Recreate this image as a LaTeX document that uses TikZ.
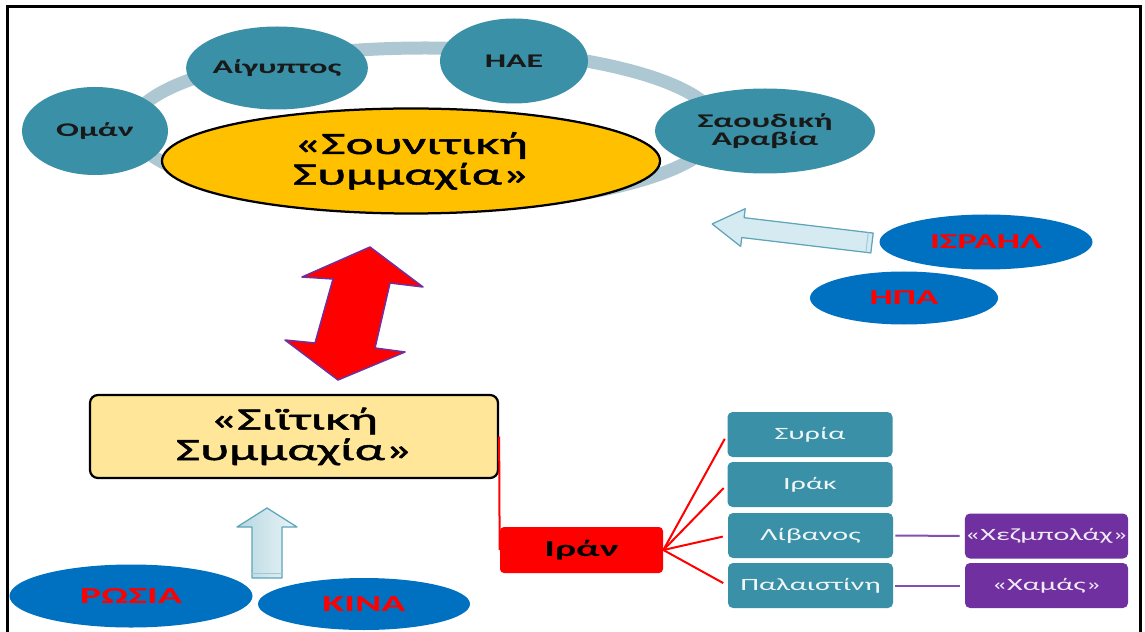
\documentclass[tikz,border=0pt]{standalone}
\usepackage{fontspec}
\setmainfont{Carlito}[FakeStretch=1.75]
\newfontfamily\alliancefont{Carlito}[FakeStretch=1.72, FakeBold=1.6]
\usetikzlibrary{shapes.geometric}

\definecolor{ringblue}{HTML}{AEC8D3}
\definecolor{tealfill}{HTML}{3A90A6}
\definecolor{sunnigold}{HTML}{FFC000}
\definecolor{shiacream}{HTML}{FFE699}
\definecolor{allyblue}{HTML}{0070C0}
\definecolor{purplebox}{HTML}{7030A0}
\definecolor{arrowfill}{HTML}{D6EBF1}
\definecolor{arrowedge}{HTML}{5DA5B9}

\newcommand{\bigfont}{\alliancefont\fontsize{17.6}{17.4}\selectfont}

\begin{document}
\begin{tikzpicture}[x=0.2mm, y=-0.2mm,
  member/.style={ellipse, fill=tealfill, inner sep=0pt, align=center, text=black!90, font=\bfseries\fontsize{11}{10.4}\selectfont},
  power/.style={ellipse, fill=allyblue, inner sep=0pt, text=red, font=\bfseries\fontsize{12}{12}\selectfont},
  ally/.style={rectangle, rounded corners=1mm, fill=tealfill, minimum width=33mm, minimum height=9mm, inner sep=0pt, text=white!92!tealfill, font=\fontsize{9.8}{10}\selectfont},
  militia/.style={ally, minimum width=32.6mm, fill=purplebox, text=white!90!purplebox},
  redline/.style={red, line width=0.4mm},
  violetline/.style={purplebox!85!white, line width=0.4mm},
  blockarrow/.style={fill=arrowfill, draw=arrowedge, line width=0.25mm, line join=round}]
\useasboundingbox (0,0) rectangle (1145,632);
\draw[line width=0.6mm] (7,632) -- (7,7) -- (1140,7) -- (1140,632);

% ring of the sunni states
\draw[ringblue, line width=2.6mm] (425,127) ellipse [x radius=293, y radius=79];
\node[member, minimum width=29.2mm, minimum height=17.6mm] (oman) at (95,131) {Ομάν};
\node[member, minimum width=35.2mm, minimum height=16.6mm] (egypt) at (277,68) {Αίγυπτος};
\node[member, minimum width=29.6mm, minimum height=17mm] (uae) at (514,61) {ΗΑΕ};
\node[member, minimum width=44mm, minimum height=17mm] (saudi) at (765,131) {Σαουδική\\Αραβία};
\node[ellipse, draw, line width=0.45mm, fill=sunnigold, minimum width=99.6mm, minimum height=21mm, inner sep=0pt, align=center, font=\bigfont] (sunni) at (411,161) {«Σουνιτική\\Συμμαχία»};

% conflict arrow
\filldraw[fill=red, draw=purplebox, line width=0.3mm, line join=round] (370,247) -- (423,287) -- (390,283) -- (375,348) -- (405,352) -- (338,380) -- (285,340) -- (315,343) -- (333,279) -- (302,277) -- cycle;

% support from the west
\node[power, minimum width=42.6mm, minimum height=11mm] (israel) at (986,242) {ΙΣΡΑΗΛ};
\node[power, minimum width=37.6mm, minimum height=10.6mm] (usa) at (904,298) {ΗΠΑ};
\begin{scope}[shift={(872,243)}, rotate=173.2]
  \filldraw[blockarrow] (0,-10) -- (130,-10) -- (130,-19) -- (161,0) -- (130,19) -- (130,10) -- (0,10) -- cycle;
  \draw[arrowedge!60!white, line width=0.2mm] (5,-10) -- (5,10);
\end{scope}

% shia side
\node[rectangle, draw, line width=0.45mm, fill=shiacream, rounded corners=1.6mm, minimum width=81.6mm, minimum height=16.6mm, inner sep=0pt, align=center, font=\bigfont] (shia) at (294,436.5) {«Σιϊτική\\Συμμαχία»};
\filldraw[blockarrow, left color=arrowedge!45!white, right color=arrowfill!50!white] (252,578) -- (252,527) -- (237,527) -- (267,508) -- (297,527) -- (282,527) -- (282,578) -- cycle;
\draw[arrowedge!60!white, line width=0.2mm] (252,573) -- (282,573);
\node[power, minimum width=48.6mm, minimum height=12.6mm, font=\bfseries\fontsize{13}{13}\selectfont] (russia) at (131,596) {ΡΩΣΙΑ};
\node[power, minimum width=42.4mm, minimum height=10.4mm, font=\bfseries\fontsize{13}{13}\selectfont] (china) at (364,604) {ΚΙΝΑ};

\node[rectangle, rounded corners=0.8mm, fill=red, minimum width=32.6mm, minimum height=9.2mm, inner sep=0pt, font=\bfseries\fontsize{13}{13}\selectfont] (iran) at (581.5,550) {Ιράν};
\node[ally] (syria) at (810,434.5) {Συρία};
\node[ally] (iraq) at (810,484.5) {Ιράκ};
\node[ally] (lebanon) at (810.5,535.5) {Λίβανος};
\node[ally] (palestine) at (810.5,585.5) {Παλαιστίνη};
\node[militia] (hezbollah) at (1046.5,536) {«Χεζμπολάχ»};
\node[militia] (hamas) at (1046.5,585.5) {«Χαμάς»};

\draw[redline] (shia.east) -- (iran.west);
\foreach \t in {syria,iraq,lebanon,palestine}
  \draw[redline, shorten >=1mm] (iran.east) -- (\t.west);
\foreach \a/\b in {lebanon/hezbollah,palestine/hamas}
  \draw[violetline, shorten <=0.4mm, shorten >=1mm] (\a.east) -- (\b.west);
\end{tikzpicture}
\end{document}
